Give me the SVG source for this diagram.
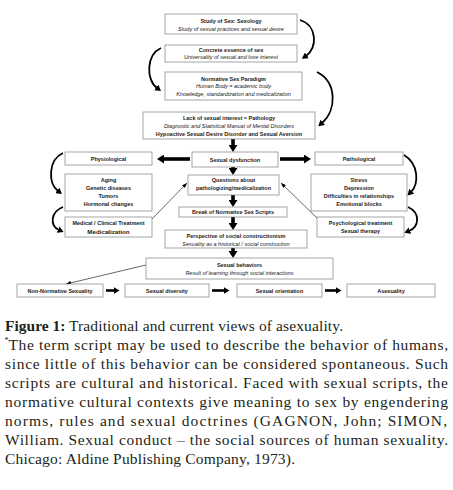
<svg xmlns="http://www.w3.org/2000/svg" width="453" height="490" viewBox="0 0 453 490">
<style>
.box{fill:#fff;stroke:#7f7f7f;stroke-width:0.7}
.b{font-family:"Liberation Sans",Arial,sans-serif;font-weight:bold;font-size:5.5px;text-anchor:middle;fill:#1a1a1a}
.i{font-family:"Liberation Sans",Arial,sans-serif;font-style:italic;font-size:5.5px;text-anchor:middle;fill:#1a1a1a}
.thick{stroke:#000;stroke-width:3.6;fill:none}
.thick2{stroke:#000;stroke-width:2.6;fill:none}
.curve{stroke:#000;stroke-width:1.8;fill:none}
.thin{stroke:#000;stroke-width:0.6;fill:none}
.cap{font-family:"Liberation Serif","Times New Roman",serif;font-size:15.5px;fill:#231f20}
</style>
<defs>
<marker id="ah" markerUnits="userSpaceOnUse" markerWidth="8" markerHeight="9" refX="2" refY="4.5" orient="auto" viewBox="0 0 8 9"><path d="M0,0 L7,4.5 L0,9 z" fill="#000"/></marker>
<marker id="as" markerUnits="userSpaceOnUse" markerWidth="7" markerHeight="7" refX="1.5" refY="3.5" orient="auto" viewBox="0 0 7 7"><path d="M0,0 L6,3.5 L0,7 z" fill="#000"/></marker>
<marker id="ac" markerUnits="userSpaceOnUse" markerWidth="7" markerHeight="7" refX="1" refY="3.5" orient="auto" viewBox="0 0 7 7"><path d="M0,0 L6,3.5 L0,7 z" fill="#000"/></marker>
<marker id="at" markerUnits="userSpaceOnUse" markerWidth="5" markerHeight="4" refX="5" refY="2" orient="auto" viewBox="0 0 5 4"><path d="M0,0 L5,2 L0,4 z" fill="#000"/></marker>
</defs>
<rect width="453" height="490" fill="#fff"/>

<g id="connectors">
<line class="thick" x1="233" y1="139" x2="233" y2="147" marker-end="url(#ah)"/>
<line class="thick" x1="233" y1="167" x2="233" y2="170" marker-end="url(#ah)"/>
<line class="thick" x1="233" y1="195" x2="233" y2="202" marker-end="url(#ah)"/>
<line class="thick" x1="233" y1="217" x2="233" y2="225" marker-end="url(#ah)"/>
<line class="thick" x1="233" y1="248" x2="233" y2="253" marker-end="url(#ah)"/>
<line class="thick" x1="190" y1="159" x2="162" y2="159" marker-end="url(#ah)"/>
<line class="thick" x1="280" y1="159" x2="306" y2="159" marker-end="url(#ah)"/>
<line class="thick2" x1="106" y1="290.5" x2="115" y2="290.5" marker-end="url(#as)"/>
<line class="thick2" x1="212" y1="290.5" x2="225" y2="290.5" marker-end="url(#as)"/>
<line class="thick2" x1="325" y1="290.5" x2="337" y2="290.5" marker-end="url(#as)"/>
<path class="curve" d="M300,20 C317,25 318,48 306,56" marker-end="url(#ac)"/>
<path class="curve" d="M161,48 C146,55 146,80 157,88" marker-end="url(#ac)"/>
<path class="curve" d="M317,72 C337,82 337,110 322,123" marker-end="url(#ac)"/>
<path class="curve" d="M63,153 C48,160 48,183 58,191" marker-end="url(#ac)"/>
<path class="curve" d="M63,207 C50,212 50,226 59,230" marker-end="url(#ac)"/>
<path class="curve" d="M404,155 C419,164 419,184 411,192" marker-end="url(#ac)"/>
<path class="curve" d="M408,207 C421,213 419,227 409,231" marker-end="url(#ac)"/>
<line class="thin" x1="151" y1="220" x2="187" y2="183" marker-end="url(#at)"/>
<line class="thin" x1="318" y1="219" x2="281" y2="183" marker-end="url(#at)"/>
<line class="thin" x1="146" y1="265" x2="66" y2="284" marker-end="url(#at)"/>
</g>

<g id="n1"><rect class="box" x="165" y="14" width="132" height="20"/>
<text class="b" x="231" y="23">Study of Sex: Sexology</text>
<text class="i" x="231" y="30.5">Study of sexual practices and sexual desire</text></g>

<g id="n2"><rect class="box" x="165" y="45" width="132" height="17"/>
<text class="b" x="231" y="51.5">Concrete essence of sex</text>
<text class="i" x="231" y="58.8">Universality of sexual and love interest</text></g>

<g id="n3"><rect class="box" x="165" y="72" width="137" height="28"/>
<text class="b" x="233.5" y="80.5">Normative Sex Paradigm</text>
<text class="i" x="233.5" y="88">Human Body = academic body</text>
<text class="i" x="233.5" y="96">Knowledge, standardization and medicalization</text></g>

<g id="n4"><rect class="box" x="143" y="112" width="172" height="27"/>
<text class="b" x="229" y="119.5">Lack of sexual interest = Pathology</text>
<text class="i" x="229" y="127.5">Diagnostic and Statistical Manual of Mental Disorders</text>
<text class="b" x="229" y="135.5">Hypoactive Sexual Desire Disorder and Sexual Aversion</text></g>

<g id="n5"><rect class="box" x="192" y="152" width="86" height="15"/>
<text class="b" x="235" y="161.5">Sexual dysfunction</text></g>

<g id="n6"><rect class="box" x="65" y="152" width="87" height="13"/>
<text class="b" x="108.5" y="160.5">Physiological</text></g>

<g id="n7"><rect class="box" x="65" y="174" width="87" height="37"/>
<text class="b" x="108.5" y="182">Aging</text>
<text class="b" x="108.5" y="190">Genetic diseases</text>
<text class="b" x="108.5" y="198">Tumors</text>
<text class="b" x="108.5" y="206">Hormonal changes</text></g>

<g id="n8"><rect class="box" x="65" y="217" width="87" height="20"/>
<text class="b" x="108.5" y="225">Medical / Clinical Treatment</text>
<text class="b" x="108.5" y="233.5" style="font-size:6.2px">Medicalization</text></g>

<g id="n9"><rect class="box" x="315" y="152" width="88" height="13"/>
<text class="b" x="359" y="160.5">Pathological</text></g>

<g id="n10"><rect class="box" x="311" y="174" width="96" height="37"/>
<text class="b" x="359" y="182">Stress</text>
<text class="b" x="359" y="190">Depression</text>
<text class="b" x="359" y="198">Difficulties in relationships</text>
<text class="b" x="359" y="206">Emotional blocks</text></g>

<g id="n11"><rect class="box" x="317" y="217" width="87" height="20"/>
<text class="b" x="360.5" y="225">Psychological treatment</text>
<text class="b" x="360.5" y="233">Sexual therapy</text></g>

<g id="n12"><rect class="box" x="188" y="175" width="91" height="20"/>
<text class="b" x="233.5" y="182">Questions about</text>
<text class="b" x="233.5" y="190">pathologizing/medicalization</text></g>

<g id="n13"><rect class="box" x="179" y="207" width="108" height="10"/>
<text class="b" x="233" y="214">Break of Normative Sex Scripts</text></g>

<g id="n14"><rect class="box" x="165" y="230" width="142" height="18"/>
<text class="b" x="236" y="238">Perspective of social constructionism</text>
<text class="i" x="236" y="245.8">Sexuality as a historical / social construction</text></g>

<g id="n15"><rect class="box" x="146" y="258" width="187" height="21"/>
<text class="b" x="239.5" y="267">Sexual behaviors</text>
<text class="i" x="239.5" y="275">Result of learning through social interactions</text></g>

<g id="n16"><rect class="box" x="17" y="284" width="86" height="13"/>
<text class="b" x="60" y="292.8">Non-Normative Sexuality</text></g>
<g id="n17"><rect class="box" x="125" y="284" width="84" height="13"/>
<text class="b" x="167" y="292.8">Sexual diversity</text></g>
<g id="n18"><rect class="box" x="237" y="284" width="85" height="13"/>
<text class="b" x="279.5" y="292.8">Sexual orientation</text></g>
<g id="n19"><rect class="box" x="347" y="284" width="88" height="13"/>
<text class="b" x="391" y="292.8">Asexuality</text></g>

<g id="caption">
<text class="cap" x="5" y="330.5" style="font-weight:bold">Figure 1:</text>
<text class="cap" x="69" y="330.5" textLength="274" lengthAdjust="spacing">Traditional and current views of asexuality.</text>
<text class="cap" x="4.5" y="343" style="font-size:8px">*</text>
<text class="cap" x="8.5" y="349.5" textLength="439.5" lengthAdjust="spacing">The term script may be used to describe the behavior of humans,</text>
<text class="cap" x="5" y="368.5" textLength="443" lengthAdjust="spacing">since little of this behavior can be considered spontaneous. Such</text>
<text class="cap" x="5" y="387.5" textLength="443" lengthAdjust="spacing">scripts are cultural and historical. Faced with sexual scripts, the</text>
<text class="cap" x="5" y="406.5" textLength="443" lengthAdjust="spacing">normative cultural contexts give meaning to sex by engendering</text>
<text class="cap" x="5" y="425.5" textLength="442" lengthAdjust="spacing">norms, rules and sexual doctrines (GAGNON, John; SIMON,</text>
<text class="cap" x="5" y="444.5" textLength="443" lengthAdjust="spacing">William. Sexual conduct – the social sources of human sexuality.</text>
<text class="cap" x="5" y="463.5" textLength="290" lengthAdjust="spacing">Chicago: Aldine Publishing Company, 1973).</text>
</g>
</svg>
